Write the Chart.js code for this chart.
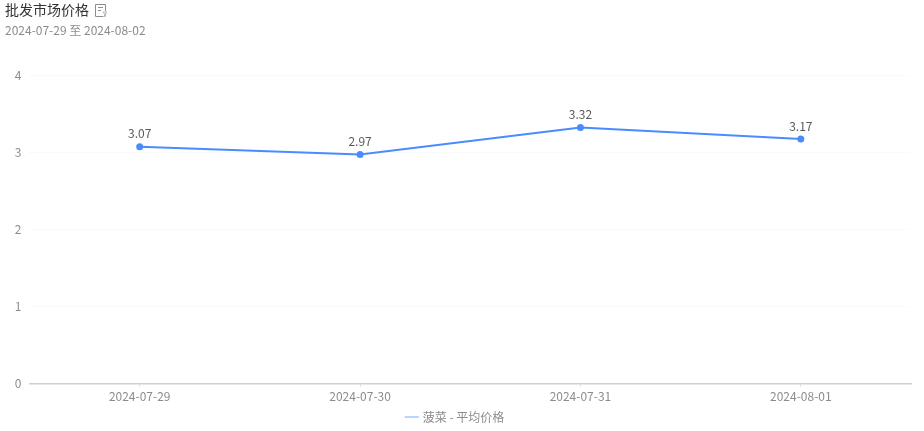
<!DOCTYPE html>
<html>
<head>
<meta charset="utf-8">
<title>批发市场价格</title>
<script src="https://cdn.jsdelivr.net/npm/chart.js@4/dist/chart.umd.min.js"></script>
<style>
  body { margin: 0; background: #fff; font-family: "Noto Sans CJK SC", "Noto Sans", sans-serif; }
  #wrap { position: relative; width: 924px; height: 431px; overflow: hidden; }
  #chartTitle { position: absolute; left: 5px; top: 0; font-size: 14px; line-height: 18px; color: #333; }
  #chartTitle svg { vertical-align: -3px; margin-left: 2px; }
  #chartRange { position: absolute; left: 5px; top: 21px; font-size: 12px; line-height: 17px; color: #8c8c8c; }
  #myChart { position: absolute; left: 0; top: 0; }
</style>
</head>
<body>
<div id="wrap">
  <canvas id="myChart" width="924" height="431"></canvas>
  <div id="chartTitle">批发市场价格
    <svg width="14" height="15" viewBox="0 0 14 15" fill="none" stroke="#8c8c8c" stroke-width="1">
      <path d="M9.5 13.5H1.5V1.5H11.5V8"/>
      <path d="M4 4.5H9M4 7.5H7"/>
      <path d="M9 9H13L11.5 11V13.5H10.5V11Z" stroke="#b5b5b5"/>
    </svg>
  </div>
  <div id="chartRange">2024-07-29 至 2024-08-02</div>
</div>
<script>
const dateLabels = ['2024-07-29', '2024-07-30', '2024-07-31', '2024-08-01']
const avgPrice = [3.07, 2.97, 3.32, 3.17]
const seriesName = '菠菜 - 平均价格'
const yTicks = [0, 1, 2, 3, 4]

const chartFont = '"Noto Sans CJK SC", "Noto Sans", sans-serif'

// draws the value above each point
const pointValues = {
    id: 'pointValues',
    afterDatasetsDraw(chart) {
        const ctx = chart.ctx
        const meta = chart.getDatasetMeta(0)
        ctx.save()
        ctx.font = '12px ' + chartFont
        ctx.fillStyle = '#595959'
        ctx.textAlign = 'center'
        ctx.textBaseline = 'bottom'
        meta.data.forEach((point, i) => {
            ctx.fillText(avgPrice[i].toFixed(2), point.x, point.y - 7)
        })
        ctx.restore()
    }
}

const config = {
    type: 'line',
    data: {
        labels: dateLabels,
        datasets: [{
            label: seriesName,
            data: avgPrice,
            borderColor: '#4a8cff',
            backgroundColor: '#4a8cff',
            borderWidth: 2,
            pointRadius: 2.5,
            pointHoverRadius: 2.5,
            tension: 0
        }]
    },
    options: {
        responsive: false,
        animation: false,
        layout: { padding: { top: 75, right: 13, left: 0, bottom: -2 } },
        plugins: {
            tooltip: { enabled: false },
            legend: {
                position: 'bottom',
                labels: {
                    usePointStyle: true,
                    pointStyle: 'line',
                    boxWidth: 10,
                    boxHeight: 10,
                    padding: 0,
                    color: '#8c8c8c',
                    font: { size: 12, family: chartFont },
                    generateLabels() {
                        return [{
                            text: seriesName,
                            strokeStyle: '#a3c5ff',
                            fontColor: '#8c8c8c',
                            lineWidth: 1.5,
                            pointStyle: 'line'
                        }]
                    }
                }
            }
        },
        scales: {
            x: {
                offset: true,
                afterFit(axis) { axis.height += 4 },
                grid: { drawOnChartArea: false, drawTicks: true, tickLength: 3, tickColor: '#d9d9d9', offset: false },
                border: { color: '#d0d0d0', width: 1.5 },
                ticks: { color: '#8c8c8c', padding: 3, maxRotation: 0, font: { size: 12, family: chartFont } }
            },
            y: {
                min: 0,
                max: 4,
                afterBuildTicks(axis) { axis.ticks = yTicks.map(v => ({ value: v })) },
                afterFit(axis) { axis.width = 29.5 },
                grid: { color: '#f6f6f6', drawTicks: false },
                border: { display: false, dash: [2, 2] },
                ticks: { color: '#8c8c8c', padding: 8, font: { size: 12, family: chartFont } }
            }
        }
    },
    plugins: [pointValues]
}

const myChart = new Chart(document.getElementById('myChart'), config)
</script>
</body>
</html>
